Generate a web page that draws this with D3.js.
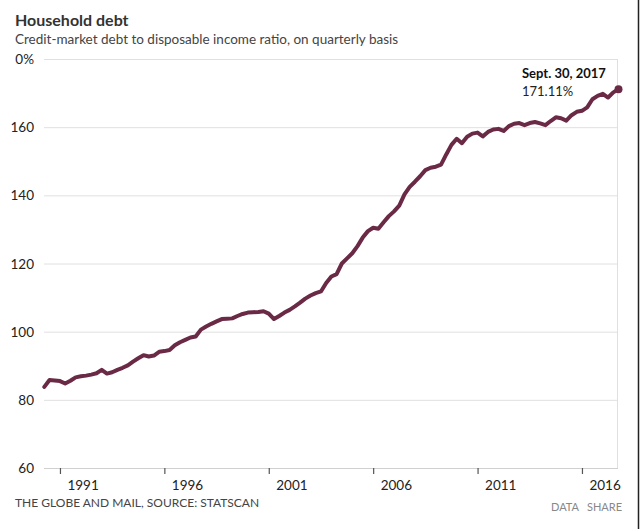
<!DOCTYPE html>
<html>
<head>
<meta charset="utf-8">
<script src="https://cdn.jsdelivr.net/npm/d3@7"></script>
<style>
  body { margin: 0; background: #fff; }
  svg { display: block; font-family: Lato, "Noto Sans", sans-serif; }
</style>
</head>
<body>
<svg id="chart"></svg>
<script>
// quarterly ratio, 1990 Q1 .. 2017 Q3
const startYear = 1990;
const ratio = [
  83.8, 85.8, 85.7, 85.5,
  84.8, 85.6, 86.6, 86.9,
  87.1, 87.4, 87.8, 88.8,
  87.7, 88.1, 88.8, 89.4,
  90.1, 91.2, 92.2, 93.1,
  92.7, 93.0, 94.1, 94.3,
  94.6, 96.0, 96.9, 97.6,
  98.3, 98.6, 100.6, 101.5,
  102.3, 103.0, 103.7, 103.8,
  103.9, 104.6, 105.2, 105.6,
  105.7, 105.8, 106.0, 105.3,
  103.7, 104.6, 105.6, 106.4,
  107.4, 108.5, 109.7, 110.6,
  111.3, 111.8, 114.3, 116.2,
  116.9, 120.0, 121.5, 123.0,
  125.1, 127.6, 129.5, 130.5,
  130.2, 132.1, 133.9, 135.3,
  137.0, 140.3, 142.5, 144.0,
  145.6, 147.4, 148.1, 148.4,
  149.0, 152.0, 154.8, 156.6,
  155.3, 157.2, 158.1, 158.4,
  157.3, 158.6, 159.3, 159.5,
  158.9, 160.3, 161.0, 161.2,
  160.6, 161.2, 161.5, 161.1,
  160.6, 161.8, 162.9, 162.6,
  161.9, 163.5, 164.5, 164.8,
  165.8, 168.2, 169.2, 169.8,
  168.7, 170.2, 171.11
];
const yTicks = [60, 80, 100, 120, 140, 160, 180];
const xTicks = [1991, 1996, 2001, 2006, 2011, 2016];
const lastLabel = "Sept. 30, 2017";
const lastValue = "171.11%";

const width = 640, height = 529;
const svg = d3.select("#chart").attr("width", width).attr("height", height);

// each quarter sits at its end date
const data = ratio.map((v, i) => ({ t: startYear + (i + 1) / 4, v: v }));

const x = d3.scaleLinear().domain([1990.25, 2017.75]).range([44.3, 618.5]);
const y = d3.scaleLinear().domain([60, 180]).range([468, 59]);

// title
svg.append("text").attr("x", 15).attr("y", 26)
  .attr("font-size", 16).attr("font-weight", 700).attr("fill", "#333")
  .text("Household debt");
svg.append("text").attr("x", 15).attr("y", 44)
  .attr("font-size", 13.5).attr("fill", "#444")
  .text("Credit-market debt to disposable income ratio, on quarterly basis");

// grid
svg.append("g").selectAll("line")
  .data(yTicks.slice(1))
  .join("line")
  .attr("x1", 44).attr("x2", 618)
  .attr("y1", d => y(d) + 0.5).attr("y2", d => y(d) + 0.5)
  .attr("stroke", "#e0e0e0");

svg.append("line")
  .attr("x1", 617.5).attr("x2", 617.5).attr("y1", y(180)).attr("y2", y(60))
  .attr("stroke", "#e0e0e0");

svg.append("g").selectAll("text")
  .data(yTicks)
  .join("text")
  .attr("x", 34).attr("y", d => y(d) + 5)
  .attr("text-anchor", "end")
  .attr("font-size", 13.5).attr("fill", "#222")
  .text(d => d == 180 ? "0%" : d);

// x axis
const xAxis = d3.axisBottom(x).tickValues(xTicks).tickFormat(d3.format("d")).tickSize(6);
const gx = svg.append("g").attr("transform", `translate(0,${y(60)})`).call(xAxis);
gx.select(".domain").attr("d", "M44,0.5H618").attr("stroke", "#d0d0d0");
gx.selectAll(".tick line").attr("stroke", "#555").attr("stroke-width", 1.2);
gx.selectAll(".tick text")
  .attr("x", 7).attr("y", 12).attr("text-anchor", "start")
  .attr("font-size", 13.5).attr("fill", "#222")
  .attr("font-family", "Lato, 'Noto Sans', sans-serif");

// line
const line = d3.line().x(d => x(d.t)).y(d => y(d.v));
svg.append("path").datum(data)
  .attr("d", line)
  .attr("fill", "none")
  .attr("stroke", "#6a2a45")
  .attr("stroke-width", 4)
  .attr("stroke-linejoin", "round")
  .attr("stroke-linecap", "round");

const last = data[data.length - 1];
svg.append("circle").attr("cx", x(last.t)).attr("cy", y(last.v)).attr("r", 4)
  .attr("fill", "#6a2a45");

// annotation
svg.append("text").attr("x", 522).attr("y", 78)
  .attr("font-size", 13).attr("font-weight", 700).attr("fill", "#111")
  .text(lastLabel);
svg.append("text").attr("x", 522).attr("y", 96)
  .attr("font-size", 13).attr("fill", "#222")
  .text(lastValue);

// footer
svg.append("text").attr("x", 15).attr("y", 507)
  .attr("font-size", 12).attr("fill", "#444")
  .text("THE GLOBE AND MAIL, SOURCE: STATSCAN");
svg.append("text").attr("x", 551).attr("y", 511)
  .attr("font-size", 11).attr("fill", "#888")
  .text("DATA");
svg.append("text").attr("x", 587).attr("y", 511)
  .attr("font-size", 11).attr("fill", "#888")
  .text("SHARE");

// screenshot edge
svg.append("line").attr("x1", 638.5).attr("x2", 638.5).attr("y1", 0).attr("y2", height)
  .attr("stroke", "#222").attr("stroke-width", 1.5);
</script>
</body>
</html>
